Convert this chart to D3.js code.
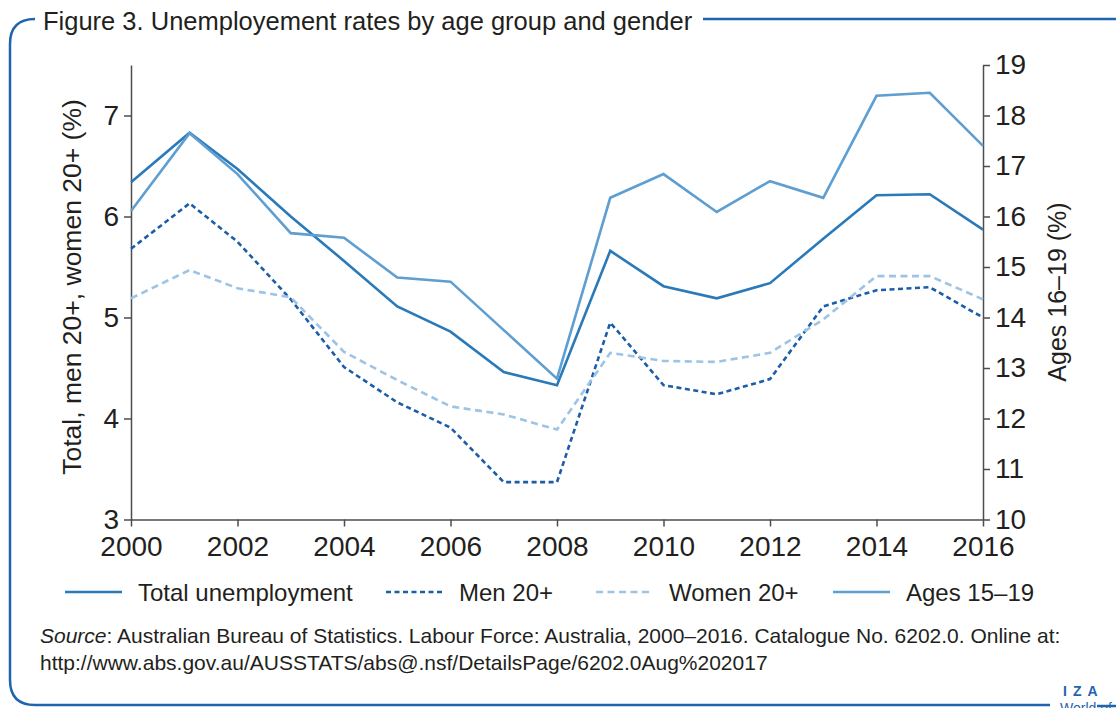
<!DOCTYPE html>
<html>
<head>
<meta charset="utf-8">
<script src="https://cdn.jsdelivr.net/npm/d3@7"></script>
<style>
  body { margin: 0; background: #fff; }
  svg { display: block; font-family: "Liberation Sans", Arial, sans-serif; }
  .axis text { fill: #231f20; font-size: 28px; }
  .axis path, .axis line { stroke: #4d4d4d; stroke-width: 1.5; }
</style>
</head>
<body>
<svg width="1116" height="708"></svg>
<script>
// values
var years = [2000, 2001.1, 2002, 2003, 2004, 2005, 2006, 2007, 2008,
             2009, 2010, 2011, 2012, 2013, 2014, 2015, 2016];
var totalRate = [6.34, 6.83, 6.47, 6.00, 5.56, 5.11, 4.86, 4.46, 4.33,
                 5.66, 5.31, 5.19, 5.34, 5.78, 6.21, 6.22, 5.87];
var menRate = [5.68, 6.13, 5.75, 5.18, 4.51, 4.16, 3.91, 3.37, 3.37,
               4.95, 4.33, 4.24, 4.39, 5.11, 5.27, 5.30, 5.00];
var womenRate = [5.19, 5.47, 5.29, 5.20, 4.66, 4.38, 4.12, 4.04, 3.89,
                 4.65, 4.57, 4.56, 4.65, 4.98, 5.41, 5.41, 5.18];
var youthRate = [16.11, 17.65, 16.84, 15.67, 15.58, 14.79, 14.71, 13.75, 12.79,
                 16.37, 16.84, 16.09, 16.70, 16.37, 18.39, 18.45, 17.40];
var xTicks = [2000, 2002, 2004, 2006, 2008, 2010, 2012, 2014, 2016];
var leftTicks = [3, 4, 5, 6, 7];
var rightTicks = [10, 11, 12, 13, 14, 15, 16, 17, 18, 19];

var series = [
  {name: "Total unemployment", values: totalRate, axis: "left", color: "#2a7ab9", dash: null, legendX: 65},
  {name: "Men 20+", values: menRate, axis: "left", color: "#1b5da8", dash: "5,3.5", legendX: 386},
  {name: "Women 20+", values: womenRate, axis: "left", color: "#9dc3e5", dash: "7,4.5", legendX: 596},
  {name: "Ages 15\u201319", values: youthRate, axis: "right", color: "#5e9ed1", dash: null, legendX: 833}
];

var svg = d3.select("svg");
var ink = "#231f20";
var frameBlue = "#1f64ae";

var plotLeft = 131, plotRight = 983, plotTop = 65, plotBottom = 519.5;

var x = d3.scaleLinear().domain([2000, 2016]).range([plotLeft, plotRight]);
var yLeft = d3.scaleLinear().domain([3, 7.5]).range([plotBottom, plotTop]);
var yRight = d3.scaleLinear().domain([10, 19]).range([plotBottom, plotTop]);

// frame round the figure
svg.append("path")
  .attr("d", "M35,19 Q10,19 10,44 L10,680 Q10,705 35,705 L1050,705")
  .attr("fill", "none").attr("stroke", frameBlue).attr("stroke-width", 2.5);
svg.append("line")
  .attr("x1", 703).attr("x2", 1116).attr("y1", 19).attr("y2", 19)
  .attr("stroke", frameBlue).attr("stroke-width", 2.5);
svg.append("line")
  .attr("x1", 1097).attr("x2", 1116).attr("y1", 706).attr("y2", 706)
  .attr("stroke", frameBlue).attr("stroke-width", 2.5);

svg.append("text")
  .attr("x", 43).attr("y", 30)
  .attr("font-size", 25.5).attr("fill", ink)
  .text("Figure 3. Unemployement rates by age group and gender");

// axes
svg.append("g").attr("class", "axis")
  .attr("transform", "translate(0," + plotBottom + ")")
  .call(d3.axisBottom(x).tickValues(xTicks).tickFormat(d3.format("d")).tickSize(7).tickSizeOuter(0).tickPadding(10));

svg.append("g").attr("class", "axis")
  .attr("transform", "translate(" + plotLeft + ",0)")
  .call(d3.axisLeft(yLeft).tickValues(leftTicks).tickFormat(d3.format("d")).tickSize(7).tickSizeOuter(0).tickPadding(5));

svg.append("g").attr("class", "axis")
  .attr("transform", "translate(" + plotRight + ",0)")
  .call(d3.axisRight(yRight).tickValues(rightTicks).tickFormat(d3.format("d")).tickSize(7).tickSizeOuter(0).tickPadding(5));

svg.append("text")
  .attr("transform", "translate(81,287) rotate(-90)")
  .attr("text-anchor", "middle")
  .attr("font-size", 26.5).attr("fill", ink)
  .text("Total, men 20+, women 20+ (%)");

svg.append("text")
  .attr("transform", "translate(1066,292) rotate(-90)")
  .attr("text-anchor", "middle")
  .attr("font-size", 25).attr("fill", ink)
  .text("Ages 16\u201319 (%)");

// lines
series.forEach(function (s) {
  var yScale = s.axis == "left" ? yLeft : yRight;
  var line = d3.line()
    .x(function (d, i) { return x(years[i]); })
    .y(function (d) { return yScale(d); });
  svg.append("path")
    .datum(s.values)
    .attr("d", line)
    .attr("fill", "none")
    .attr("stroke", s.color)
    .attr("stroke-width", 2.6)
    .attr("stroke-dasharray", s.dash);
});

// legend
var legend = svg.append("g").attr("transform", "translate(0,592)");
series.forEach(function (s) {
  legend.append("line")
    .attr("x1", s.legendX).attr("x2", s.legendX + 57)
    .attr("stroke", s.color).attr("stroke-width", 2.6)
    .attr("stroke-dasharray", s.dash);
  legend.append("text")
    .attr("x", s.legendX + 73).attr("y", 8.5)
    .attr("font-size", 24).attr("fill", ink)
    .text(s.name);
});

// source note
var note = svg.append("text").attr("font-size", 21).attr("fill", ink);
note.append("tspan").attr("x", 40).attr("y", 643).attr("font-style", "italic").text("Source");
note.append("tspan").text(": Australian Bureau of Statistics. Labour Force: Australia, 2000\u20132016. Catalogue No. 6202.0. Online at:");
note.append("tspan").attr("x", 40).attr("y", 670)
  .text("http://www.abs.gov.au/AUSSTATS/abs@.nsf/DetailsPage/6202.0Aug%202017");

// logo, cut by the page edge
svg.append("text")
  .attr("x", 1063).attr("y", 696)
  .attr("font-size", 14).attr("font-weight", "bold")
  .attr("letter-spacing", 6).attr("fill", frameBlue)
  .text("IZA");
svg.append("text")
  .attr("x", 1060).attr("y", 713)
  .attr("font-size", 14).attr("fill", frameBlue)
  .text("World of Labor");
</script>
</body>
</html>
